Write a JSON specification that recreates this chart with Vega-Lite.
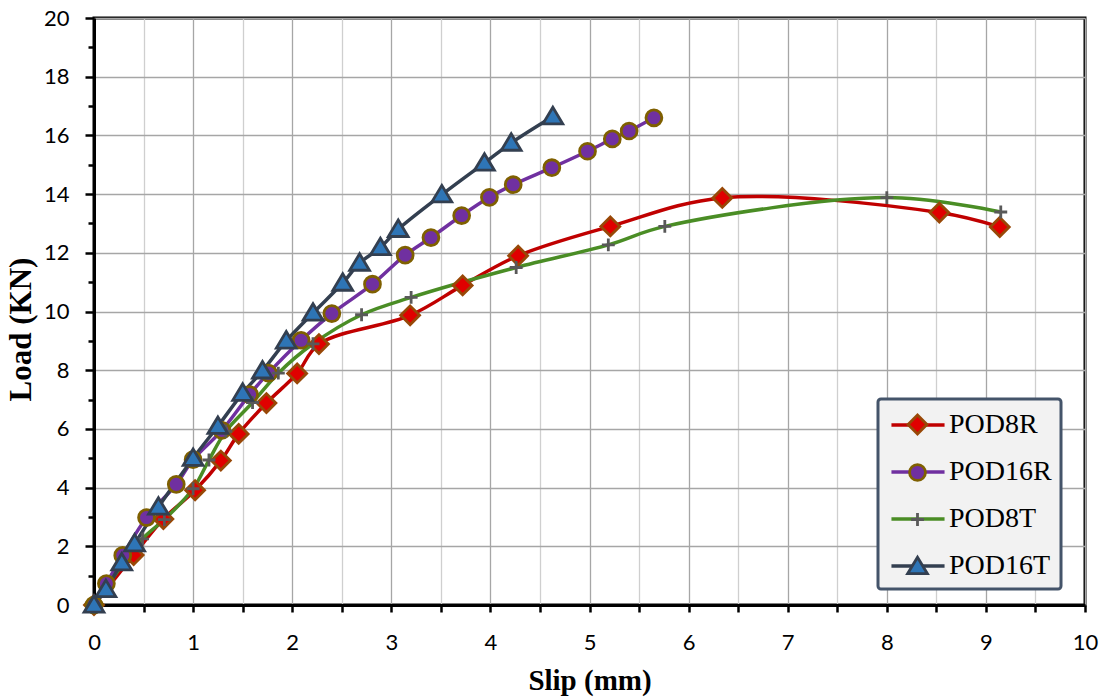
{
  "$schema": "https://vega.github.io/schema/vega-lite/v6.json",
  "width": 991,
  "height": 587,
  "autosize": {"type": "none"},
  "padding": {"left": 94, "top": 18, "right": 17, "bottom": 93},
  "background": "white",
  "config": {
    "view": {"stroke": "black", "strokeWidth": 3},
    "axis": {
      "domainColor": "black",
      "domainWidth": 3,
      "tickColor": "black",
      "tickWidth": 2.5,
      "labelFont": "Lato",
      "labelFontSize": 22,
      "labelColor": "black",
      "titleFont": "Liberation Serif",
      "titleFontSize": 29,
      "titleFontWeight": "bold",
      "titleColor": "black",
      "labelOverlap": false,
      "labelFlush": false,
      "labelBound": false,
      "grid": true,
      "gridWidth": 1.3,
      "format": "~g"
    }
  },
  "data": {
    "values": [
      {"specimen": "POD8R", "slip": 0, "load": 0},
      {"specimen": "POD8R", "slip": 0.4, "load": 1.7},
      {"specimen": "POD8R", "slip": 0.7, "load": 2.93},
      {"specimen": "POD8R", "slip": 1.02, "load": 3.91},
      {"specimen": "POD8R", "slip": 1.28, "load": 4.92},
      {"specimen": "POD8R", "slip": 1.46, "load": 5.83},
      {"specimen": "POD8R", "slip": 1.74, "load": 6.88},
      {"specimen": "POD8R", "slip": 2.05, "load": 7.89},
      {"specimen": "POD8R", "slip": 2.27, "load": 8.89},
      {"specimen": "POD8R", "slip": 3.19, "load": 9.87},
      {"specimen": "POD8R", "slip": 3.72, "load": 10.89},
      {"specimen": "POD8R", "slip": 4.28, "load": 11.9},
      {"specimen": "POD8R", "slip": 5.21, "load": 12.9},
      {"specimen": "POD8R", "slip": 6.34, "load": 13.87},
      {"specimen": "POD8R", "slip": 8.53, "load": 13.37},
      {"specimen": "POD8R", "slip": 9.14, "load": 12.88},
      {"specimen": "POD16R", "slip": 0, "load": 0},
      {"specimen": "POD16R", "slip": 0.125, "load": 0.73},
      {"specimen": "POD16R", "slip": 0.29, "load": 1.69},
      {"specimen": "POD16R", "slip": 0.53, "load": 2.98},
      {"specimen": "POD16R", "slip": 0.83, "load": 4.11},
      {"specimen": "POD16R", "slip": 1.0, "load": 4.95},
      {"specimen": "POD16R", "slip": 1.29, "load": 5.95},
      {"specimen": "POD16R", "slip": 1.57, "load": 7.17},
      {"specimen": "POD16R", "slip": 1.76, "load": 7.9},
      {"specimen": "POD16R", "slip": 2.09, "load": 9.02},
      {"specimen": "POD16R", "slip": 2.4, "load": 9.93},
      {"specimen": "POD16R", "slip": 2.81, "load": 10.93},
      {"specimen": "POD16R", "slip": 3.14, "load": 11.92},
      {"specimen": "POD16R", "slip": 3.4, "load": 12.52},
      {"specimen": "POD16R", "slip": 3.71, "load": 13.27},
      {"specimen": "POD16R", "slip": 3.99, "load": 13.89},
      {"specimen": "POD16R", "slip": 4.23, "load": 14.32},
      {"specimen": "POD16R", "slip": 4.62, "load": 14.9},
      {"specimen": "POD16R", "slip": 4.98, "load": 15.46},
      {"specimen": "POD16R", "slip": 5.23, "load": 15.88},
      {"specimen": "POD16R", "slip": 5.4, "load": 16.15},
      {"specimen": "POD16R", "slip": 5.65, "load": 16.6},
      {"specimen": "POD8T", "slip": 0, "load": 0},
      {"specimen": "POD8T", "slip": 0.49, "load": 2.25},
      {"specimen": "POD8T", "slip": 0.71, "load": 2.91},
      {"specimen": "POD8T", "slip": 1.0, "load": 3.96},
      {"specimen": "POD8T", "slip": 1.16, "load": 4.94},
      {"specimen": "POD8T", "slip": 1.33, "load": 5.92},
      {"specimen": "POD8T", "slip": 1.6, "load": 6.9},
      {"specimen": "POD8T", "slip": 1.86, "load": 7.9},
      {"specimen": "POD8T", "slip": 2.21, "load": 8.9},
      {"specimen": "POD8T", "slip": 2.7, "load": 9.89},
      {"specimen": "POD8T", "slip": 3.2, "load": 10.48},
      {"specimen": "POD8T", "slip": 4.26, "load": 11.5},
      {"specimen": "POD8T", "slip": 5.19, "load": 12.27},
      {"specimen": "POD8T", "slip": 5.76, "load": 12.9},
      {"specimen": "POD8T", "slip": 8.0, "load": 13.88},
      {"specimen": "POD8T", "slip": 9.15, "load": 13.39},
      {"specimen": "POD16T", "slip": 0, "load": 0},
      {"specimen": "POD16T", "slip": 0.12, "load": 0.53},
      {"specimen": "POD16T", "slip": 0.28, "load": 1.44},
      {"specimen": "POD16T", "slip": 0.41, "load": 2.09},
      {"specimen": "POD16T", "slip": 0.65, "load": 3.34},
      {"specimen": "POD16T", "slip": 1.0, "load": 5.0},
      {"specimen": "POD16T", "slip": 1.25, "load": 6.09},
      {"specimen": "POD16T", "slip": 1.5, "load": 7.22},
      {"specimen": "POD16T", "slip": 1.7, "load": 7.98},
      {"specimen": "POD16T", "slip": 1.94, "load": 9.0},
      {"specimen": "POD16T", "slip": 2.21, "load": 9.95},
      {"specimen": "POD16T", "slip": 2.51, "load": 10.97},
      {"specimen": "POD16T", "slip": 2.68, "load": 11.65},
      {"specimen": "POD16T", "slip": 2.89, "load": 12.18},
      {"specimen": "POD16T", "slip": 3.07, "load": 12.8},
      {"specimen": "POD16T", "slip": 3.51, "load": 13.98},
      {"specimen": "POD16T", "slip": 3.94, "load": 15.06},
      {"specimen": "POD16T", "slip": 4.21, "load": 15.74},
      {"specimen": "POD16T", "slip": 4.63, "load": 16.64}
    ]
  },
  "encoding": {
    "x": {
      "field": "slip",
      "type": "quantitative",
      "scale": {"domain": [0, 10], "nice": false, "zero": false},
      "axis": {
        "title": "Slip (mm)",
        "values": [0, 0.5, 1, 1.5, 2, 2.5, 3, 3.5, 4, 4.5, 5, 5.5, 6, 6.5, 7, 7.5, 8, 8.5, 9, 9.5, 10],
        "labelExpr": "datum.value % 1 === 0 ? datum.label : ''",
        "gridColor": {"condition": {"test": "datum.value % 1 !== 0", "value": "#cfcfcf"}, "value": "#a6a6a6"},
        "tickSize": 7,
        "labelPadding": 20,
        "titlePadding": 13
      }
    },
    "y": {
      "field": "load",
      "type": "quantitative",
      "scale": {"domain": [0, 20], "nice": false},
      "axis": {
        "title": "Load (KN)",
        "titleFontSize": 31,
        "titleY": 311,
        "values": [0, 1, 2, 3, 4, 5, 6, 7, 8, 9, 10, 11, 12, 13, 14, 15, 16, 17, 18, 19, 20],
        "labelExpr": "datum.value % 2 === 0 ? datum.label : ''",
        "gridColor": "#a6a6a6",
        "gridOpacity": {"condition": {"test": "datum.value % 2 !== 0", "value": 0}, "value": 1},
        "tickSize": {"condition": {"test": "datum.value % 2 !== 0", "value": 6}, "value": 9},
        "labelPadding": 16,
        "titlePadding": 6
      }
    }
  },
  "layer": [
    {
      "mark": {"type": "line", "interpolate": "catmull-rom", "strokeWidth": 3.5},
      "encoding": {
        "color": {
          "field": "specimen",
          "type": "nominal",
          "scale": {
            "domain": ["POD8R", "POD16R", "POD8T", "POD16T"],
            "range": ["#c00000", "#7030a0", "#4a8d25", "#333f50"]
          },
          "legend": {
            "title": null,
            "orient": "none",
            "legendX": 784,
            "legendY": 381,
            "padding": 9,
            "fillColor": "#f2f2f2",
            "strokeColor": "#44546a",
            "cornerRadius": 3,
            "symbolType": "M-1.77,0H1.77",
            "symbolSize": 900,
            "symbolOffset": 14,
            "symbolStrokeWidth": 3.5,
            "symbolFillColor": "transparent",
            "labelFont": "Liberation Serif",
            "labelFontSize": 28,
            "labelColor": "black",
            "labelOffset": 14,
            "rowPadding": 16,
            "encode": {"legend": {"update": {"strokeWidth": {"value": 3}}}}
          }
        }
      }
    },
    {
      "mark": {"type": "point", "size": 900, "strokeWidth": 2.8, "opacity": 1, "fillOpacity": 1, "strokeOpacity": 1},
      "encoding": {
        "fill": {
          "field": "specimen",
          "type": "nominal",
          "sort": null,
          "scale": {"range": ["#e00000", "#7030a0", "#595959", "#2e75b6"]},
          "legend": {
            "title": null,
            "orient": "none",
            "legendX": 784,
            "legendY": 381,
            "padding": 9,
            "fillColor": "transparent",
            "strokeColor": "transparent",
            "symbolSize": 900,
            "symbolOffset": 14,
            "symbolStrokeWidth": 2.8,
            "labelFont": "Liberation Serif",
            "labelFontSize": 28,
            "labelOpacity": 0,
            "labelOffset": 14,
            "rowPadding": 16
          }
        },
        "stroke": {
          "field": "specimen",
          "type": "nominal",
          "sort": null,
          "scale": {"range": ["#984807", "#7f6000", "#595959", "#333f50"]}
        },
        "shape": {
          "field": "specimen",
          "type": "nominal",
          "sort": null,
          "scale": {
            "range": [
              "M0,-0.63L0.63,0L0,0.63L-0.63,0Z",
              "M-0.53,0A0.53,0.53 0 1,0 0.53,0A0.53,0.53 0 1,0 -0.53,0Z",
              "M-0.43,0H0.43M0,-0.43V0.43",
              "M0,-0.62L0.66,0.48L-0.66,0.48Z"
            ]
          }
        }
      }
    }
  ]
}
